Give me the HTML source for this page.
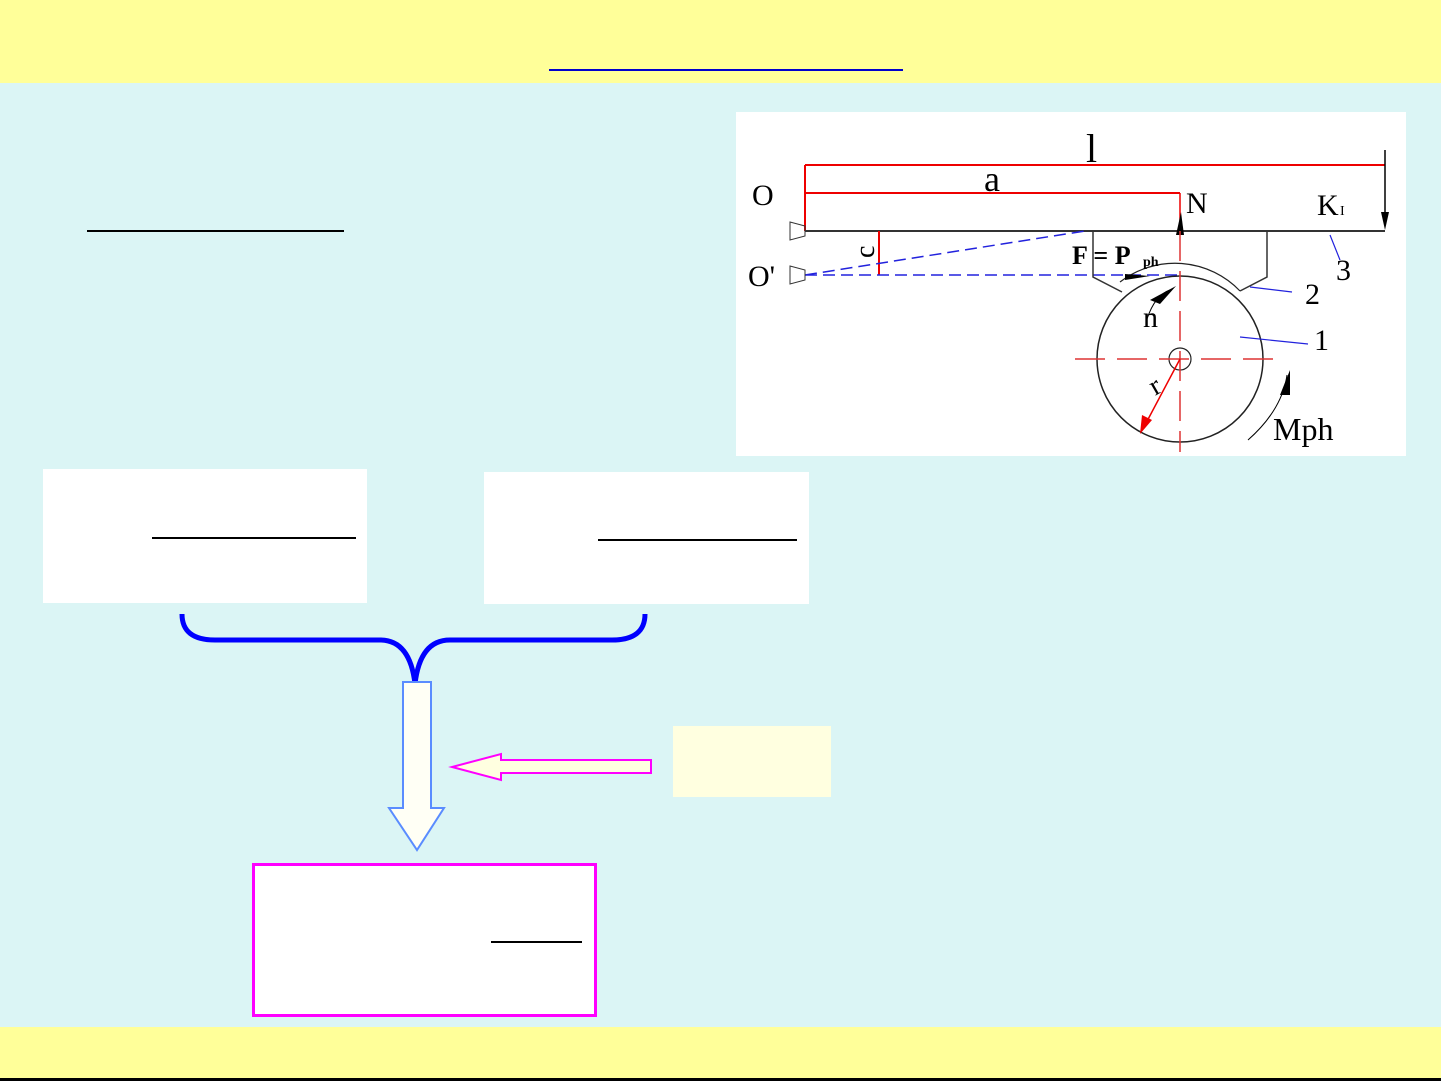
<!DOCTYPE html>
<html><head><meta charset="utf-8"><style>
html,body{margin:0;padding:0}
body{width:1441px;height:1081px;position:relative;background:#dbf5f5;overflow:hidden;font-family:"Liberation Sans",sans-serif}
.abs{position:absolute}
</style></head><body>
<div class="abs" style="left:0;top:0;width:1441px;height:83px;background:#ffff99"></div>
<div class="abs" style="left:549px;top:69px;width:354px;height:2px;background:#00c"></div>
<div class="abs" style="left:0;top:1027px;width:1441px;height:51px;background:#ffff99"></div>
<div class="abs" style="left:0;top:1078px;width:1441px;height:3px;background:#000"></div>
<div class="abs" style="left:87px;top:230px;width:257px;height:2px;background:#000"></div>
<div class="abs" style="left:43px;top:469px;width:324px;height:134px;background:#fff"></div>
<div class="abs" style="left:152px;top:537px;width:204px;height:2px;background:#000"></div>
<div class="abs" style="left:484px;top:472px;width:325px;height:132px;background:#fff"></div>
<div class="abs" style="left:598px;top:539px;width:199px;height:2px;background:#000"></div>
<div class="abs" style="left:673px;top:726px;width:158px;height:71px;background:#ffffe0"></div>
<div class="abs" style="left:252px;top:863px;width:339px;height:148px;border:3px solid #f0f;background:#fff"></div>
<div class="abs" style="left:491px;top:941px;width:91px;height:2px;background:#000"></div>
<div class="abs" style="left:736px;top:112px;width:670px;height:344px;background:#fff"></div>
<svg class="abs" style="left:0;top:0" width="1441" height="1081">
<path d="M182,614 Q182,640 215,640 L380,640 Q410,640 415,684 Q420,640 450,640 L612,640 Q645,640 645,614" fill="none" stroke="#00f" stroke-width="5"/>
<path d="M403,682 L431,682 L431,808 L444,808 L417,850 L389,808 L403,808 Z" fill="#fffff5" stroke="#5a8cff" stroke-width="2"/>
<path d="M651,760 L501,760 L501,754 L452,767 L501,780 L501,773 L651,773 Z" fill="#ffffe0" stroke="#f0f" stroke-width="2"/>
<g font-family="Liberation Serif,serif">
<line x1="805" y1="165" x2="1385" y2="165" stroke="#e00" stroke-width="2"/>
<line x1="805" y1="193" x2="1180" y2="193" stroke="#e00" stroke-width="2"/>
<line x1="805" y1="165" x2="805" y2="231" stroke="#e00" stroke-width="2"/>
<line x1="1180" y1="193" x2="1180" y2="231" stroke="#e00" stroke-width="1.5"/>
<line x1="805" y1="231" x2="1385" y2="231" stroke="#333" stroke-width="2"/>
<line x1="1385" y1="150" x2="1385" y2="225" stroke="#000" stroke-width="1.5"/>
<path d="M1381,212 L1389,212 L1385,230Z" fill="#000"/>
<path d="M1176,235 L1184,235 L1181,212Z" fill="#000"/>
<line x1="879" y1="231" x2="879" y2="275" stroke="#e00" stroke-width="2"/>
<line x1="805" y1="275" x2="1180" y2="275" stroke="#22d" stroke-width="1.5" stroke-dasharray="12,6"/>
<line x1="805" y1="275" x2="1085" y2="231" stroke="#22d" stroke-width="1.5" stroke-dasharray="12,6"/>
<path d="M1093,231 L1093,277 L1122,292 M1267,231 L1267,277 L1240,291" fill="none" stroke="#333" stroke-width="1.5"/>
<circle cx="1180" cy="359" r="83" fill="none" stroke="#222" stroke-width="1.5"/>
<path d="M1120,282 A90,90 0 0 1 1240,291" fill="none" stroke="#222" stroke-width="1.2"/>
<circle cx="1180" cy="359" r="11" fill="none" stroke="#222" stroke-width="1.2"/>
<line x1="1075" y1="359" x2="1285" y2="359" stroke="#d33" stroke-width="1.5" stroke-dasharray="30,12"/>
<line x1="1180" y1="231" x2="1180" y2="452" stroke="#d33" stroke-width="1.5" stroke-dasharray="30,10"/>
<line x1="1180" y1="359" x2="1145" y2="425" stroke="#e00" stroke-width="1.5"/>
<path d="M1140,434 L1142,415 L1152,420Z" fill="#e00"/>
<path d="M1147,319 Q1155,295 1170,290" fill="none" stroke="#000"/>
<path d="M1150,300 L1176,286 L1160,304Z" fill="#000"/>
<path d="M1125,280 L1150,276 L1125,274Z" fill="#000"/>
<path d="M1248,440 Q1282,410 1287,375" fill="none" stroke="#000"/>
<path d="M1280,395 L1290,370 L1290,395Z" fill="#000"/>
<path d="M1240,337 L1308,344 M1250,287 L1292,292 M1330,235 L1340,260" stroke="#22d" stroke-width="1.2"/>
<text x="1086" y="162" font-size="40">l</text>
<text x="984" y="191" font-size="36">a</text>
<text x="752" y="205" font-size="30">O</text>
<text x="1186" y="213" font-size="30">N</text>
<text x="1317" y="215" font-size="30">K</text><text x="1340" y="215" font-size="14">I</text>
<text x="748" y="286" font-size="30">O'</text>
<text x="1072" y="264" font-size="26" font-weight="bold">F = P</text><text x="1143" y="266" font-size="14" font-weight="bold">ph</text>
<text x="1143" y="327" font-size="30">n</text>
<text x="1305" y="304" font-size="30">2</text>
<text x="1336" y="280" font-size="30">3</text>
<text x="1314" y="350" font-size="30">1</text>
<text x="1273" y="440" font-size="32">Mph</text>
<text x="860" y="252" font-size="28" transform="rotate(-90 870 248)">c</text>
<text x="1150" y="393" font-size="28" transform="rotate(-30 1158 385)">r</text>
<path d="M790,222 L805,226 L805,236 L790,240 Z M790,266 L805,270 L805,280 L790,284 Z" fill="none" stroke="#333"/>
</g>
</svg>
</body></html>
